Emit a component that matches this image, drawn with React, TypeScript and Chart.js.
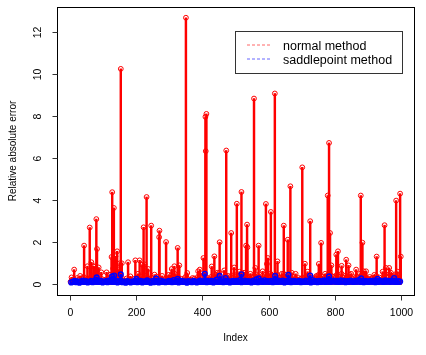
import React, { useEffect, useRef } from "react";
import { Chart, registerables } from "chart.js";

Chart.register(...registerables);

// Index axis range and ticks
const xTicks = [0, 200, 400, 600, 800, 1000];
const yTicks = [0, 2, 4, 6, 8, 10, 12];

// Dense low band of the normal method, read every 5th index starting at 1
const redBase = [
  0.12, 0.20, 0.25, 0.18, 0.30, 0.22, 0.15, 0.28, 0.35, 0.20, 0.26, 0.18, 0.32, 0.24, 0.40, 0.22, 0.30, 0.19, 0.16, 0.25,
  0.14, 0.22, 0.18, 0.30, 0.45, 0.28, 0.35, 0.50, 0.26, 0.40, 0.20, 0.32, 0.18, 0.15, 0.28, 0.22, 0.12, 0.20, 0.26, 0.18,
  0.24, 0.30, 0.16, 0.35, 0.28, 0.20, 0.42, 0.18, 0.25, 0.30, 0.15, 0.22, 0.36, 0.20, 0.28, 0.18, 0.14, 0.24, 0.30, 0.20,
  0.32, 0.45, 0.28, 0.50, 0.22, 0.35, 0.20, 0.26, 0.18, 0.30, 0.40, 0.25, 0.15, 0.22, 0.18, 0.28, 0.20, 0.35, 0.45, 0.30,
  0.38, 0.50, 0.25, 0.30, 0.22, 0.35, 0.28, 0.18, 0.45, 0.30, 0.55, 0.25, 0.20, 0.32, 0.40, 0.28, 0.22, 0.36, 0.30, 0.45,
  0.35, 0.25, 0.40, 0.30, 0.50, 0.28, 0.45, 0.32, 0.22, 0.38, 0.30, 0.26, 0.48, 0.20, 0.35, 0.28, 0.40, 0.22, 0.30, 0.45,
  0.32, 0.50, 0.28, 0.40, 0.25, 0.45, 0.30, 0.22, 0.35, 0.50, 0.28, 0.38, 0.25, 0.30, 0.20, 0.35, 0.28, 0.22, 0.30, 0.25,
  0.30, 0.22, 0.35, 0.28, 0.40, 0.25, 0.32, 0.20, 0.28, 0.35, 0.45, 0.30, 0.38, 0.25, 0.50, 0.32, 0.45, 0.28, 0.40, 0.35,
  0.30, 0.45, 0.38, 0.25, 0.50, 0.32, 0.40, 0.28, 0.35, 0.45, 0.30, 0.25, 0.22, 0.38, 0.30, 0.50, 0.28, 0.35, 0.45, 0.30,
  0.25, 0.35, 0.28, 0.22, 0.30, 0.40, 0.25, 0.32, 0.20, 0.28, 0.45, 0.35, 0.30, 0.50, 0.40, 0.32, 0.45, 0.38, 0.30, 0.25,
];

// Visible spikes of the normal method
const redSpikeIdx = [
  4, 12, 30, 42, 52, 59, 64, 70, 75, 79, 81, 86, 94, 110, 120, 125, 127, 130, 132, 137,
  142, 146, 150, 153, 156, 175, 182, 197, 205, 210, 218, 222, 225, 231, 236, 245, 255, 269, 270, 278,
  290, 298, 307, 315, 325, 330, 350, 354, 370, 387, 392, 403, 409, 410, 412, 428, 436, 445, 452, 466,
  472, 478, 487, 496, 504, 512, 518, 526, 532, 535, 536, 545, 556, 560, 570, 582, 592, 595, 598, 607,
  612, 619, 627, 640, 646, 650, 658, 666, 670, 682, 702, 710, 718, 726, 745, 752, 759, 775, 779, 783,
  786, 790, 805, 810, 821, 835, 842, 850, 865, 879, 884, 888, 895, 915, 920, 927, 945, 951, 955, 965,
  970, 982, 986, 990, 995, 998, 1000,
];
const redSpikeVal = [
  0.33, 0.70, 0.40, 1.84, 0.86, 2.70, 1.05, 0.86, 0.85, 3.10, 1.68, 0.80, 0.57, 0.57, 0.45, 1.30, 4.38, 0.75, 3.63, 1.33,
  1.57, 0.70, 1.00, 10.24, 1.00, 1.05, 0.38, 1.14, 0.50, 1.14, 0.93, 2.71, 0.95, 4.15, 0.73, 2.79, 0.46, 2.24, 2.55, 0.40,
  2.01, 0.45, 0.73, 0.86, 1.73, 0.90, 12.67, 0.54, 0.30, 0.62, 0.70, 1.25, 7.96, 6.33, 8.10, 0.85, 1.33, 0.55, 2.00, 0.66,
  6.36, 0.40, 2.44, 0.80, 3.83, 0.60, 4.39, 0.55, 1.84, 2.84, 1.76, 0.50, 8.83, 0.78, 1.84, 0.62, 3.82, 0.97, 1.25, 3.44,
  0.40, 9.07, 1.09, 0.50, 2.79, 0.45, 2.12, 4.66, 0.55, 0.50, 5.56, 0.98, 0.60, 3.00, 0.40, 0.97, 1.97, 0.38, 4.22, 6.72,
  2.44, 0.90, 1.41, 1.57, 0.88, 1.17, 0.90, 0.50, 0.70, 4.22, 1.98, 0.62, 0.62, 0.30, 0.45, 1.32, 0.60, 2.81, 0.78, 0.78,
  0.55, 0.40, 3.98, 0.60, 0.45, 4.31, 1.32,
];

// Dense low band of the saddlepoint method, read every 5th index starting at 3
const blueBase = [
  0.09, 0.12, 0.16, 0.10, 0.14, 0.08, 0.13, 0.18, 0.11, 0.15, 0.09, 0.12, 0.17, 0.10, 0.14, 0.22, 0.13, 0.11, 0.16, 0.09,
  0.12, 0.15, 0.10, 0.19, 0.13, 0.24, 0.11, 0.16, 0.09, 0.14, 0.18, 0.10, 0.13, 0.08, 0.15, 0.12, 0.09, 0.14, 0.11, 0.16,
  0.10, 0.13, 0.17, 0.09, 0.14, 0.11, 0.19, 0.12, 0.08, 0.15, 0.10, 0.16, 0.13, 0.09, 0.18, 0.11, 0.14, 0.10, 0.12, 0.16,
  0.14, 0.10, 0.20, 0.12, 0.16, 0.09, 0.13, 0.17, 0.11, 0.14, 0.08, 0.15, 0.12, 0.10, 0.16, 0.13, 0.09, 0.14, 0.18, 0.11,
  0.13, 0.19, 0.10, 0.15, 0.12, 0.17, 0.09, 0.14, 0.22, 0.11, 0.16, 0.13, 0.10, 0.18, 0.12, 0.15, 0.09, 0.14, 0.17, 0.11,
  0.16, 0.12, 0.20, 0.10, 0.14, 0.18, 0.11, 0.15, 0.13, 0.09, 0.17, 0.12, 0.24, 0.10, 0.14, 0.16, 0.11, 0.19, 0.13, 0.15,
  0.12, 0.17, 0.10, 0.14, 0.22, 0.11, 0.16, 0.13, 0.18, 0.09, 0.15, 0.12, 0.20, 0.10, 0.14, 0.17, 0.11, 0.13, 0.16, 0.10,
  0.14, 0.11, 0.18, 0.12, 0.16, 0.09, 0.20, 0.13, 0.15, 0.10, 0.17, 0.12, 0.14, 0.19, 0.11, 0.16, 0.22, 0.13, 0.15, 0.18,
  0.13, 0.16, 0.11, 0.19, 0.14, 0.17, 0.10, 0.15, 0.12, 0.18, 0.14, 0.11, 0.16, 0.13, 0.20, 0.12, 0.15, 0.10, 0.17, 0.14,
  0.11, 0.16, 0.13, 0.18, 0.10, 0.15, 0.12, 0.17, 0.14, 0.11, 0.19, 0.13, 0.16, 0.12, 0.18, 0.14, 0.17, 0.11, 0.15, 0.13,
];

// Scattered higher values of the saddlepoint method
const blueSpikeIdx = [80, 127, 133, 153, 200, 260, 325, 407, 452, 470, 518, 570, 620, 660, 726, 783, 880, 930, 980];
const blueSpikeVal = [0.33, 0.38, 0.42, 0.47, 0.26, 0.28, 0.26, 0.50, 0.40, 0.30, 0.48, 0.28, 0.40, 0.45, 0.42, 0.38, 0.28, 0.26, 0.30];

const seriesNames = ["normal method", "saddlepoint method"];
const RED = "#FF0000";
const BLUE = "#0000FF";

function buildPoints(base: number[], firstIdx: number, step: number, idx: number[], val: number[]) {
  const pts: { x: number; y: number }[] = [];
  base.forEach((v, i) => pts.push({ x: firstIdx + i * step, y: v }));
  idx.forEach((x, i) => pts.push({ x, y: val[i] }));
  pts.sort((a, b) => a.x - b.x);
  return pts;
}

const BOX = { left: 57, right: 414, top: 7, bottom: 295 };

const rAxesPlugin = {
  id: "rAxes",
  afterDraw(chart: any) {
    const ctx = chart.ctx as CanvasRenderingContext2D;
    const xs = chart.scales.x;
    const ys = chart.scales.y;
    const ca = chart.chartArea;
    ctx.save();
    // box
    ctx.strokeStyle = "#000";
    ctx.lineWidth = 1;
    ctx.strokeRect(Math.round(ca.left) + 0.5, Math.round(ca.top) + 0.5, Math.round(ca.right - ca.left), Math.round(ca.bottom - ca.top));
    ctx.fillStyle = "#000";
    ctx.font = "10.5px 'Liberation Sans', Arial, sans-serif";
    // x axis ticks
    ctx.strokeStyle = "#333";
    ctx.textAlign = "center";
    ctx.textBaseline = "middle";
    const bx = Math.round(ca.bottom) + 0.5;
    for (const t of xTicks) {
      const px = Math.round(xs.getPixelForValue(t)) + 0.5;
      ctx.beginPath();
      ctx.moveTo(px, bx);
      ctx.lineTo(px, bx + 5);
      ctx.stroke();
      ctx.fillText(String(t), px, 313);
    }
    // y axis ticks
    const lx = Math.round(ca.left) + 0.5;
    for (const t of yTicks) {
      const py = Math.round(ys.getPixelForValue(t)) + 0.5;
      ctx.beginPath();
      ctx.moveTo(lx, py);
      ctx.lineTo(lx - 5, py);
      ctx.stroke();
      ctx.save();
      ctx.translate(38, py);
      ctx.rotate(-Math.PI / 2);
      ctx.fillText(String(t), 0, 0);
      ctx.restore();
    }
    // axis titles
    ctx.font = "10px 'Liberation Sans', Arial, sans-serif";
    ctx.fillText("Index", (ca.left + ca.right) / 2, 338);
    ctx.save();
    ctx.translate(13, (ca.top + ca.bottom) / 2);
    ctx.rotate(-Math.PI / 2);
    ctx.fillText("Relative absolute error", 0, 0);
    ctx.restore();
    // legend
    ctx.fillStyle = "#fff";
    ctx.fillRect(235, 31, 167, 42);
    ctx.strokeStyle = "#333";
    ctx.strokeRect(235.5, 31.5, 167, 42);
    const rows = [
      { name: seriesNames[0], color: RED, y: 45 },
      { name: seriesNames[1], color: BLUE, y: 59 },
    ];
    ctx.font = "12.5px 'Liberation Sans', Arial, sans-serif";
    ctx.textAlign = "left";
    for (const r of rows) {
      ctx.strokeStyle = r.color;
      ctx.globalAlpha = 0.6;
      ctx.setLineDash([3, 2]);
      ctx.beginPath();
      ctx.moveTo(247, r.y);
      ctx.lineTo(272, r.y);
      ctx.stroke();
      ctx.setLineDash([]);
      ctx.globalAlpha = 1;
      ctx.fillStyle = "#000";
      ctx.fillText(r.name, 283, r.y + 2);
    }
    ctx.restore();
  },
};

export default function App() {
  const ref = useRef<HTMLCanvasElement | null>(null);
  useEffect(() => {
    if (!ref.current) return;
    const redPts = buildPoints(redBase, 1, 5, redSpikeIdx, redSpikeVal);
    const bluePts = buildPoints(blueBase, 3, 5, blueSpikeIdx, blueSpikeVal);
    const chart = new Chart(ref.current, {
      type: "bar",
      data: {
        datasets: [
          {
            type: "line",
            label: "blue points",
            data: bluePts,
            showLine: false,
            borderColor: BLUE,
            pointBorderColor: BLUE,
            pointBackgroundColor: "rgba(0,0,0,0)",
            pointRadius: 2.4,
            pointBorderWidth: 1.4,
            order: 0,
          } as any,
          {
            type: "bar",
            label: "blue lines",
            data: bluePts,
            backgroundColor: BLUE,
            barThickness: 1.8,
            grouped: false,
            order: 1,
          } as any,
          {
            type: "line",
            label: "red points",
            data: redPts,
            showLine: false,
            borderColor: RED,
            pointBorderColor: RED,
            pointBackgroundColor: "rgba(0,0,0,0)",
            pointRadius: 2.4,
            pointBorderWidth: 1,
            order: 2,
          } as any,
          {
            type: "bar",
            label: "red lines",
            data: redPts,
            backgroundColor: RED,
            barThickness: 1.8,
            grouped: false,
            order: 3,
          } as any,
        ],
      },
      options: {
        animation: false,
        responsive: false,
        maintainAspectRatio: false,
        layout: {
          padding: { left: BOX.left, right: 426 - BOX.right, top: BOX.top, bottom: 355 - BOX.bottom },
        },
        plugins: { legend: { display: false }, tooltip: { enabled: false } },
        scales: {
          x: { type: "linear", min: -40, max: 1040, display: false, offset: false },
          y: { type: "linear", min: -0.507, max: 13.18, display: false },
        },
      } as any,
      plugins: [rAxesPlugin],
    });
    return () => chart.destroy();
  }, []);
  return (
    <div style={{ position: "fixed", left: 0, top: 0, width: 426, height: 355, background: "#fff" }}>
      <canvas ref={ref} width={426} height={355} style={{ width: 426, height: 355 }} />
    </div>
  );
}
